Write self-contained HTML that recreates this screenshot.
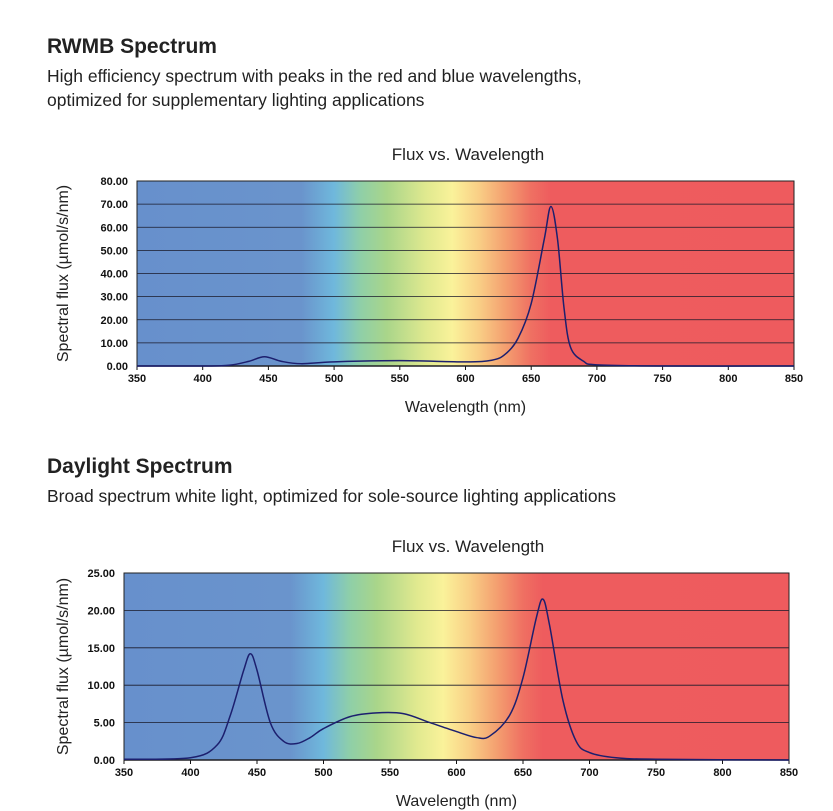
<!DOCTYPE html>
<html><head><meta charset="utf-8"><style>
body{margin:0;background:#fff;width:833px;height:811px;overflow:hidden;font-family:"Liberation Sans",sans-serif;position:relative}
.t{position:absolute;left:47px;color:#222;font-size:21px;font-weight:bold}
.s{position:absolute;left:47px;color:#222;font-size:17.5px;line-height:24px}
svg{position:absolute;left:0;top:0}
</style></head><body>
<div class="t" style="top:35px">RWMB Spectrum</div>
<div class="s" style="top:64px">High efficiency spectrum with peaks in the red and blue wavelengths,<br>optimized for supplementary lighting applications</div>
<div class="t" style="top:455px">Daylight Spectrum</div>
<div class="s" style="top:484px">Broad spectrum white light, optimized for sole-source lighting applications</div>
<svg id="svg" width="833" height="811" xmlns="http://www.w3.org/2000/svg"></svg>
<script>
const xTicks=[350,400,450,500,550,600,650,700,750,800,850];
const rwmbWl=[350,400,420,435,447,460,475,500,550,600,620,630,640,650,660,665,670,675,680,690,700,750,850];
const rwmbFlux=[0,0,0.3,2,4,2,1,1.8,2.3,1.8,2.5,5,12,27,55,69,55,25,8,2,0.5,0,0];
const rwmbYTicks=[0,10,20,30,40,50,60,70,80];
const dayWl=[350,400,420,430,440,445,450,460,470,480,490,500,520,540,560,580,600,615,625,640,650,660,665,670,680,690,700,720,750,850];
const dayFlux=[0.1,0.3,2,6,12,14.2,12,5,2.5,2.2,3,4.2,5.8,6.3,6.2,5,3.8,3,3.2,6,11,19,21.5,18,8,2.5,1,0.3,0.1,0];
const dayYTicks=[0,5,10,15,20,25];
const NS='http://www.w3.org/2000/svg';
const svg=document.getElementById('svg');
function el(tag,attrs,parent){const e=document.createElementNS(NS,tag);for(const k in attrs)e.setAttribute(k,attrs[k]);(parent||svg).appendChild(e);return e;}
const defs=el('defs',{});
const g=el('linearGradient',{id:'spec',x1:'0',x2:'1',y1:'0',y2:'0'},defs);
[[0,'#6790cc'],[0.25,'#6a94cc'],[0.3,'#6fb8dc'],[0.34,'#8fcfa8'],[0.38,'#a9d58a'],[0.44,'#e0e98f'],[0.48,'#faf29a'],[0.52,'#f9cf86'],[0.56,'#f4a070'],[0.6,'#ef7062'],[0.63,'#ee5c5e'],[1,'#ee5b5e']].forEach(s=>el('stop',{offset:s[0],'stop-color':s[1]},g));
function chart(id,L,R,T,B,ymax,yT,wl,fl,title,tx){
  const grp=el('g',{});
  
  
  const X=v=>L+(v-350)/500*(R-L), Y=v=>B-v/ymax*(B-T);
  const bg=el('rect',{x:L,y:T,width:R-L,height:B-T,fill:'url(#spec)'},grp);
  
  yT.forEach(v=>{
    const ln=el('line',{x1:L,x2:R,y1:Y(v),y2:Y(v),stroke:'#1a1a2a','stroke-width':v===0?1.5:0.8},grp);
    
    const t=el('text',{x:L-9,y:Y(v)+4,'text-anchor':'end','font-size':11,'font-weight':'bold',fill:'#111'},grp);
    
    t.textContent=v.toFixed(2);
  });
  xTicks.forEach(v=>{
    el('line',{x1:X(v),x2:X(v),y1:B,y2:B+4,stroke:'#111'},grp);
    const t=el('text',{x:X(v),y:B+16,'text-anchor':'middle','font-size':11,'font-weight':'bold',fill:'#111'},grp);
    
    t.textContent=v;
  });
  el('rect',{x:L,y:T,width:R-L,height:B-T,fill:'none',stroke:'#222','stroke-width':1},grp);
  const p=wl.map((w,i)=>[X(w),Y(fl[i])]);
  let d='M'+p[0][0]+','+p[0][1];
  for(let i=0;i<p.length-1;i++){const p0=p[i-1]||p[i],p1=p[i],p2=p[i+1],p3=p[i+2]||p2;
    d+=` C${p1[0]+(p2[0]-p0[0])/6},${p1[1]+(p2[1]-p0[1])/6} ${p2[0]-(p3[0]-p1[0])/6},${p2[1]-(p3[1]-p1[1])/6} ${p2[0]},${p2[1]}`;}
  const line=el('path',{d:d,fill:'none',stroke:'#1c1f6e','stroke-width':1.5},grp);
  
  const ti=el('text',{x:tx,y:T-21,'text-anchor':'middle','font-size':17,fill:'#222'},grp);
  
  ti.textContent=title;
  const xa=el('text',{x:(L+R)/2,y:B+46,'text-anchor':'middle','font-size':16,fill:'#222'},grp);
  
  xa.textContent='Wavelength (nm)';
  const ya=el('text',{x:0,y:0,'text-anchor':'middle','font-size':16,fill:'#222',transform:`translate(68,${(T+B)/2}) rotate(-90)`},grp);
  
  ya.textContent='Spectral flux (µmol/s/nm)';
}
chart('rwmb',137,794,181,366,80,rwmbYTicks,rwmbWl,rwmbFlux,'Flux vs. Wavelength',468);
chart('daylight',124,789,573,760,25,dayYTicks,dayWl,dayFlux,'Flux vs. Wavelength',468);
</script>
</body></html>
